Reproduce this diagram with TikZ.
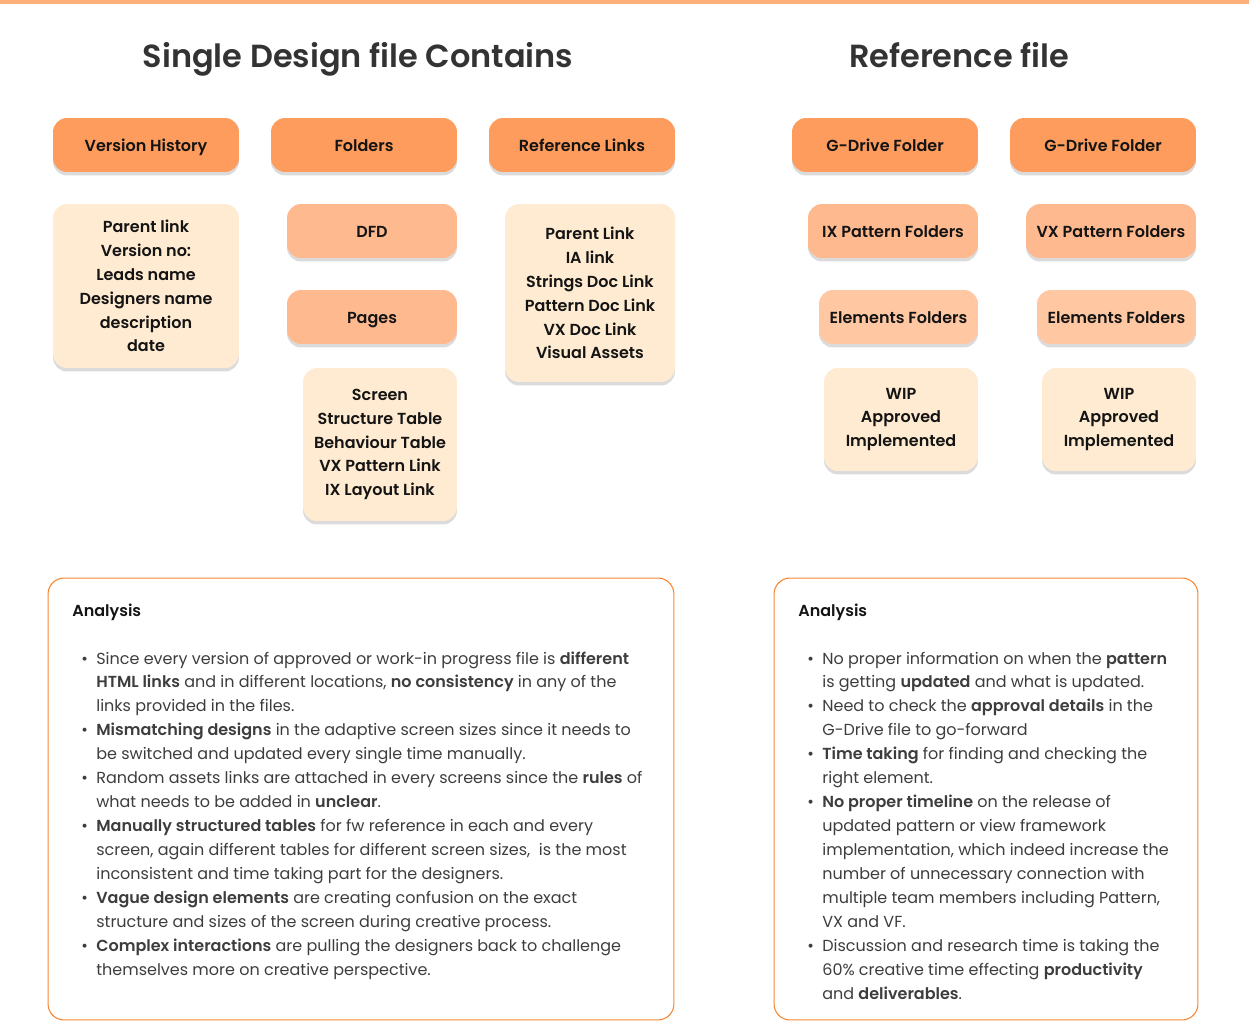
\documentclass[tikz,border=0pt]{standalone}
\usepackage{fontspec}
\setmainfont{Poppins}[BoldFont={Poppins SemiBold}]
\usetikzlibrary{shadows}

\definecolor{topline}{HTML}{FDAF7B}
\definecolor{darkorange}{HTML}{FD9C5C}
\definecolor{peach}{HTML}{FFB98F}
\definecolor{lightpeach}{HTML}{FFC8A3}
\definecolor{cream}{HTML}{FFEBD1}
\definecolor{framecol}{HTML}{F7852F}
\definecolor{titlegray}{HTML}{333333}
\definecolor{bodygray}{HTML}{3D3D3D}

\tikzset{
	card/.style={rounded corners=0.28cm, align=center, inner sep=0pt, text=black!92,
		font=\fontsize{9.1}{13.6}\selectfont\bfseries,
		drop shadow={shadow xshift=0pt, shadow yshift=-0.07cm, opacity=0.2, fill=black!70}},
	onecard/.style={card, minimum height=1.08cm, text height=7.4pt, text depth=0.2pt},
	headcard/.style={onecard, fill=darkorange, minimum width=3.72cm},
	subcard/.style={onecard, fill=peach},
	elemcard/.style={onecard, fill=lightpeach},
	listcard/.style={card, fill=cream},
	title/.style={font=\fontsize{18.2}{20}\selectfont\bfseries, text=titlegray, anchor=base},
	panel/.style={draw=framecol, line width=0.6pt, rounded corners=0.32cm, inner sep=0pt},
	panelhead/.style={font=\fontsize{9.1}{13.6}\selectfont\bfseries, text=black!92, anchor=base west, inner sep=0pt},
	bodytext/.style={font=\fontsize{9.1}{13.65}\selectfont, text=bodygray, anchor=base west, inner sep=0pt}
}

\begin{document}
\begin{tikzpicture}[x=0.02cm, y=-0.02cm]
	\useasboundingbox (0,0) rectangle (1249,1021);
	\fill[topline] (0,0) rectangle (1249,4);

	% titles
	\node[title] (titleleft) at (358,68) {Single Design file Contains};
	\node[title] (titleright) at (959,68) {Reference file};

	% single design file
	\node[headcard] (version) at (146,145) {Version History};
	\node[headcard] (folders) at (364,145) {Folders};
	\node[headcard] (reflinks) at (582,145) {Reference Links};
	\node[listcard, minimum width=3.72cm, minimum height=3.28cm] (versionlist) at (146,286) {Parent link\\Version no:\\Leads name\\Designers name\\description\\date};
	\node[subcard, minimum width=3.4cm] (dfd) at (372,231) {DFD};
	\node[subcard, minimum width=3.4cm] (pages) at (372,317) {Pages};
	\node[listcard, minimum width=3.08cm, minimum height=3.06cm] (screenlist) at (380,444.5) {Screen\\Structure Table\\Behaviour Table\\VX Pattern Link\\IX Layout Link};
	\node[listcard, minimum width=3.4cm, minimum height=3.56cm] (reflist) at (590,293) {Parent Link\\IA link\\Strings Doc Link\\Pattern Doc Link\\VX Doc Link\\Visual Assets};

	% reference file
	\node[headcard] (gdriveix) at (885,145) {G-Drive Folder};
	\node[headcard] (gdrivevx) at (1103,145) {G-Drive Folder};
	\node[subcard, minimum width=3.4cm] (ixfolders) at (893,231) {IX Pattern Folders};
	\node[subcard, minimum width=3.4cm] (vxfolders) at (1111,231) {VX Pattern Folders};
	\node[elemcard, minimum width=3.18cm] (ixelems) at (898.5,317) {Elements Folders};
	\node[elemcard, minimum width=3.18cm] (vxelems) at (1116.5,317) {Elements Folders};
	\node[listcard, minimum width=3.08cm, minimum height=2.06cm] (ixstate) at (901,419.5) {WIP\\Approved\\Implemented};
	\node[listcard, minimum width=3.08cm, minimum height=2.06cm] (vxstate) at (1119,419.5) {WIP\\Approved\\Implemented};

	% analysis panels
	\node[panel, minimum width=12.52cm, minimum height=8.84cm] (leftpanel) at (361,799) {};
	\node[panel, minimum width=8.48cm, minimum height=8.84cm] (rightpanel) at (986,799) {};
	\node[panelhead] (lefthead) at (72,616) {Analysis};
	\node[panelhead] (righthead) at (798,616) {Analysis};

	\node[bodytext] (leftlist) at (81,664) {\begin{tabular}[t]{@{}p{0.3cm}@{}l@{}}
		\textbullet & Since every version of approved or work-in progress file is \textbf{different}\\
		& \textbf{HTML links} and in different locations, \textbf{no consistency} in any of the\\
		& links provided in the files.\\
		\textbullet & \textbf{Mismatching designs} in the adaptive screen sizes since it needs to\\
		& be switched and updated every single time manually.\\
		\textbullet & Random assets links are attached in every screens since the \textbf{rules} of\\
		& what needs to be added in \textbf{unclear}.\\
		\textbullet & \textbf{Manually structured tables} for fw reference in each and every\\
		& screen, again different tables for different screen sizes,\ \ is the most\\
		& inconsistent and time taking part for the designers.\\
		\textbullet & \textbf{Vague design elements} are creating confusion on the exact\\
		& structure and sizes of the screen during creative process.\\
		\textbullet & \textbf{Complex interactions} are pulling the designers back to challenge\\
		& themselves more on creative perspective.
	\end{tabular}};

	\node[bodytext] (rightlist) at (807,664) {\begin{tabular}[t]{@{}p{0.3cm}@{}l@{}}
		\textbullet & No proper information on when the \textbf{pattern}\\
		& is getting \textbf{updated} and what is updated.\\
		\textbullet & Need to check the \textbf{approval details} in the\\
		& G-Drive file to go-forward\\
		\textbullet & \textbf{Time taking} for finding and checking the\\
		& right element.\\
		\textbullet & \textbf{No proper timeline} on the release of\\
		& updated pattern or view framework\\
		& implementation, which indeed increase the\\
		& number of unnecessary connection with\\
		& multiple team members including Pattern,\\
		& VX and VF.\\
		\textbullet & Discussion and research time is taking the\\
		& 60\% creative time effecting \textbf{productivity}\\
		& and \textbf{deliverables}.
	\end{tabular}};
\end{tikzpicture}
\end{document}
